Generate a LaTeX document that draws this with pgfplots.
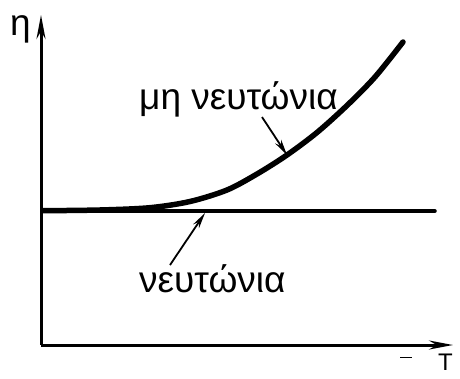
\documentclass[border=0pt]{standalone}
\usepackage{pgfplots}
\pgfplotsset{compat=1.18}
\usepackage{fontspec}
\setmainfont{Liberation Sans}
\usetikzlibrary{arrows.meta}
\begin{document}
\begin{tikzpicture}
\begin{axis}[
  scale only axis, width=412pt, height=330pt,
  xmin=41, xmax=453, ymin=33, ymax=363,
  axis lines=left, ticks=none, clip=false,
  axis line style={line width=3pt, -{Stealth[length=24pt,width=9pt]}},
]
\addplot[line width=3.5pt, line cap=round] coordinates {(42,167) (435,167)};
\addplot[line width=5.5pt, smooth, line cap=round] coordinates {
(43,167.3) (100,168) (150,170.3) (190,176.5) (227,188) (257,204) (287,223) (317,245.5) (347,272.5) (375,301) (403,336)};
\draw[line width=1.8pt, -{Stealth[length=16pt,width=7pt]}] (axis cs:262,261) -- (axis cs:287,223);
\draw[line width=1.8pt, -{Stealth[length=16pt,width=7pt]}] (axis cs:170,113) -- (axis cs:205,165);
\node[anchor=base west, inner sep=0pt, font=\fontsize{37}{42}\selectfont] at (axis cs:139,268) {μη νευτώνια};
\node[anchor=base west, inner sep=0pt, font=\fontsize{37}{42}\selectfont] at (axis cs:139,86) {νευτώνια};
\node[anchor=base west, inner sep=0pt, font=\fontsize{37}{42}\selectfont] at (axis cs:10,342) {η};
\node[anchor=base west, inner sep=0pt, font=\fontsize{24}{28}\selectfont] at (axis cs:438,8) {T};
\draw[line width=1pt] (axis cs:400,21) -- (axis cs:412,21);
\coordinate (bl) at (axis cs:0,0);
\coordinate (tr) at (axis cs:460,378);
\end{axis}
\pgfresetboundingbox
\path[use as bounding box] (bl) rectangle (tr);
\end{tikzpicture}
\end{document}
